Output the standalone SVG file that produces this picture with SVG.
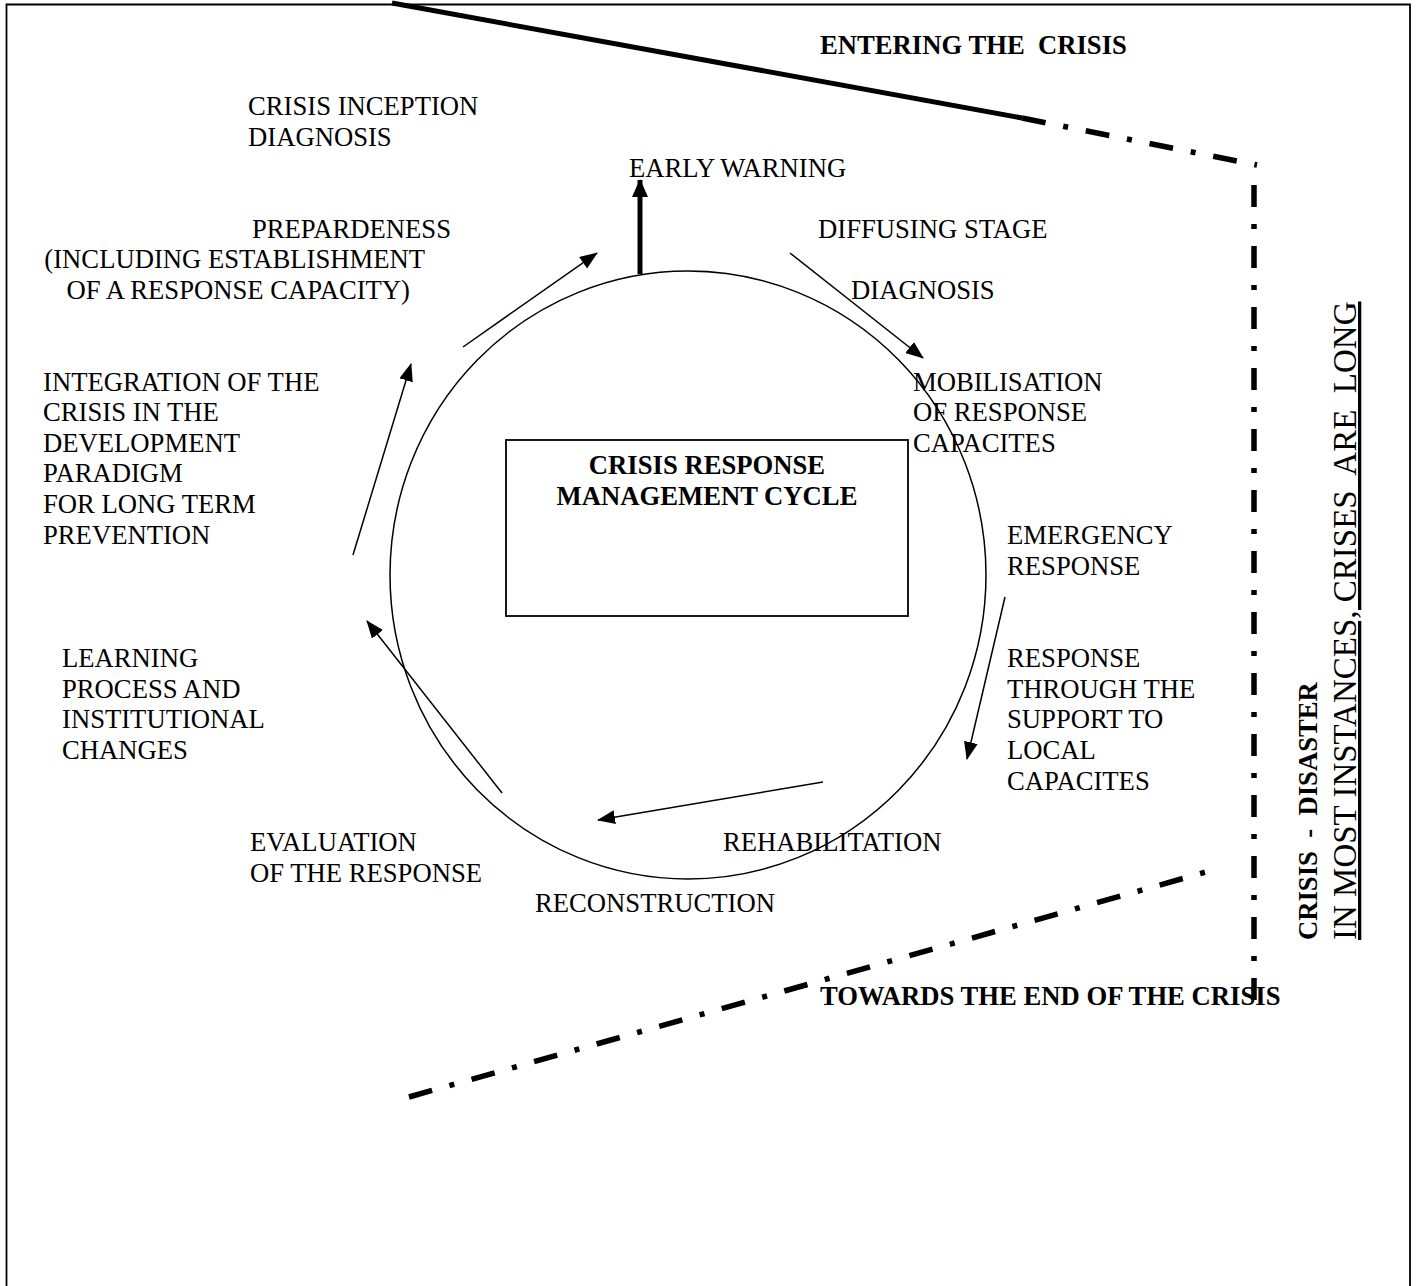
<svg xmlns="http://www.w3.org/2000/svg" width="1420" height="1286" viewBox="0 0 1420 1286">
<style>
text{font-family:"Liberation Serif","Times New Roman",serif;font-size:26.67px;fill:#000}
.b{font-weight:bold}
.thin{stroke:#000;stroke-width:1.5;fill:none}
.dd{stroke:#000;fill:none;stroke-width:5.5}
</style>
<defs>
<marker id="ah" markerUnits="userSpaceOnUse" markerWidth="18" markerHeight="14" refX="17" refY="7" orient="auto">
<path d="M0,0 L18,7 L0,14 Z" fill="#000"/>
</marker>
<marker id="ahb" markerUnits="userSpaceOnUse" markerWidth="18" markerHeight="18" refX="17" refY="9" orient="auto">
<path d="M0,1 L18,9 L0,17 Z" fill="#000"/>
</marker>
</defs>
<rect width="1420" height="1286" fill="#fff"/>
<g id="frame">
<path d="M6.5,1290 V4.5 H1410 V1290" fill="none" stroke="#000" stroke-width="1.8"/>
</g>
<g id="phase-lines">
<line x1="392" y1="3" x2="1022" y2="118" stroke="#000" stroke-width="5"/>
<line class="dd" x1="1022" y1="118" x2="1257" y2="165" stroke-dasharray="24 18 5 18"/>
<line class="dd" x1="1254" y1="185" x2="1254" y2="1003" stroke-dasharray="22 17 5 17"/>
<line class="dd" x1="409" y1="1097" x2="1220" y2="868" stroke-width="6" stroke-dasharray="24 18 5 18"/>
</g>
<g id="cycle">
<ellipse cx="688" cy="575" rx="298" ry="304" class="thin"/>
</g>
<g id="center-box">
<rect x="506" y="440" width="402" height="176" fill="none" stroke="#000" stroke-width="1.8"/>
<text class="b" x="707" y="474" text-anchor="middle">CRISIS RESPONSE</text>
<text class="b" x="707" y="505" text-anchor="middle">MANAGEMENT CYCLE</text>
</g>
<g id="connectors">
<line x1="640" y1="274" x2="640" y2="180" stroke="#000" stroke-width="5" marker-end="url(#ahb)"/>
<line class="thin" x1="463" y1="347" x2="597" y2="253" marker-end="url(#ah)"/>
<line class="thin" x1="353" y1="555" x2="411" y2="364" marker-end="url(#ah)"/>
<line class="thin" x1="790" y1="253" x2="923" y2="358" marker-end="url(#ah)"/>
<line class="thin" x1="1005" y1="597" x2="967" y2="759" marker-end="url(#ah)"/>
<line class="thin" x1="823" y1="782" x2="598" y2="820" marker-end="url(#ah)"/>
<line class="thin" x1="502" y1="793" x2="367" y2="621" marker-end="url(#ah)"/>
</g>
<g id="entering">
<text class="b" x="820" y="54" xml:space="preserve">ENTERING THE  CRISIS</text>
</g>
<g id="towards-end">
<text class="b" x="820" y="1005">TOWARDS THE END OF THE CRISIS</text>
</g>
<g id="inception">
<text x="248" y="115">CRISIS INCEPTION</text>
<text x="248" y="146">DIAGNOSIS</text>
</g>
<g id="early-warning">
<text x="629" y="177">EARLY WARNING</text>
</g>
<g id="preparedness">
<text x="451" y="238" text-anchor="end">PREPARDENESS</text>
<text x="425" y="268" text-anchor="end">(INCLUDING ESTABLISHMENT</text>
<text x="410" y="299" text-anchor="end">OF A RESPONSE CAPACITY)</text>
</g>
<g id="diffusing">
<text x="818" y="238">DIFFUSING STAGE</text>
<text x="851" y="299">DIAGNOSIS</text>
</g>
<g id="mobilisation">
<text x="913" y="391">MOBILISATION</text>
<text x="913" y="421">OF RESPONSE</text>
<text x="913" y="452">CAPACITES</text>
</g>
<g id="integration">
<text x="43" y="391">INTEGRATION OF THE</text>
<text x="43" y="421">CRISIS IN THE</text>
<text x="43" y="452">DEVELOPMENT</text>
<text x="43" y="482">PARADIGM</text>
<text x="43" y="513">FOR LONG TERM</text>
<text x="43" y="544">PREVENTION</text>
</g>
<g id="emergency">
<text x="1007" y="544">EMERGENCY</text>
<text x="1007" y="575">RESPONSE</text>
</g>
<g id="local-support">
<text x="1007" y="667">RESPONSE</text>
<text x="1007" y="698">THROUGH THE</text>
<text x="1007" y="728">SUPPORT TO</text>
<text x="1007" y="759">LOCAL</text>
<text x="1007" y="790">CAPACITES</text>
</g>
<g id="learning">
<text x="62" y="667">LEARNING</text>
<text x="62" y="698">PROCESS AND</text>
<text x="62" y="728">INSTITUTIONAL</text>
<text x="62" y="759">CHANGES</text>
</g>
<g id="evaluation">
<text x="250" y="851">EVALUATION</text>
<text x="250" y="882">OF THE RESPONSE</text>
</g>
<g id="rehabilitation">
<text x="723" y="851">REHABILITATION</text>
</g>
<g id="reconstruction">
<text x="535" y="912">RECONSTRUCTION</text>
</g>
<g id="side-label">
<text class="b" transform="translate(1317,940) rotate(-90)" xml:space="preserve">CRISIS  -  DISASTER</text>
<text transform="translate(1356,940) rotate(-90)" style="font-size:33px;text-decoration:underline" xml:space="preserve">IN MOST INSTANCES, CRISES  ARE  LONG</text>
</g>
</svg>
